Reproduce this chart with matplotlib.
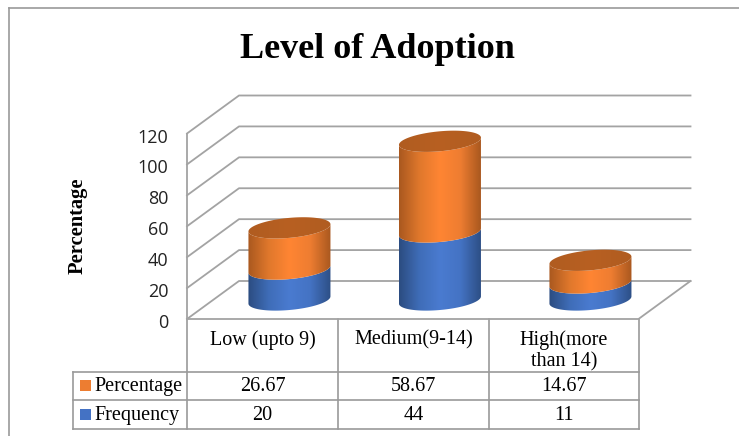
#!/usr/bin/env python
"""
Level of adoption, stacked cylinders with a data table
"""

import numpy as np
import matplotlib
matplotlib.use('Agg')
import matplotlib.pyplot as plt
from matplotlib.colors import LinearSegmentedColormap
from matplotlib.patches import PathPatch, Rectangle
from matplotlib.path import Path
from matplotlib.transforms import ScaledTranslation

categories = ['Low (upto 9)', 'Medium(9-14)', 'High(more\nthan 14)']
frequency = [20, 44, 11]
percentage = [26.67, 58.67, 14.67]
y_ticks = [0, 20, 40, 60, 80, 100, 120]

W, H = 739, 436
GRID = '#a3a3a3'
LINE = '#9a9a9a'

blue = LinearSegmentedColormap.from_list('b', ['#2b4c80', '#3f6db8', '#4a7bd0', '#4473c4', '#2d4f85'])
orange = LinearSegmentedColormap.from_list('o', ['#a9581f', '#e0782c', '#ff8533', '#ee7d31', '#a9581f'])
lid = LinearSegmentedColormap.from_list('l', ['#b05c20', '#b86022', '#b05c20'])

fig = plt.figure(figsize=(W / 100, H / 100), dpi=100)

# page axes in pixels, for frame, title and table
page = fig.add_axes([0, 0, 1, 1])
page.set_xlim(0, W)
page.set_ylim(H, 0)
page.axis('off')

# front plane of the chart
left, right, y0, y120 = 187, 638.5, 319, 133.5
ax = fig.add_axes([left / W, 1 - y0 / H, (right - left) / W, (y0 - y120) / H])
ax.patch.set_alpha(0)
ax.set_xlim(0, 3)
ax.set_ylim(0, 120)
for s in ['top', 'right', 'bottom']:
    ax.spines[s].set_visible(False)
ax.spines['left'].set_color(GRID)
ax.spines['left'].set_linewidth(1.3)
ax.set_xticks([])
ax.set_yticks(y_ticks)
ax.tick_params(axis='y', length=0, pad=13.5, labelsize=13, labelcolor='#222222')
nudge = ScaledTranslation(0, -2 / 100, fig.dpi_scale_trans)
for t in ax.get_yticklabels():
    t.set_family('Open Sans')
    t.set_transform(t.get_transform() + nudge)

px_x = 3 / (right - left)
px_y = 120 / (y0 - y120)
depth_x = 52 * px_x
depth_y = 38 * px_y

# walls and floor
for v in y_ticks:
    ax.plot([0, depth_x, 3 + depth_x], [v, v + depth_y, v + depth_y], color=GRID, lw=1.3,
            clip_on=False, zorder=1)
ax.plot([0, 3, 3 + depth_x], [0, 0, depth_y], color=GRID, lw=1.3, clip_on=False, zorder=1)

half_w = 41 * px_x
half_h = 10 * px_y
tilt = 3.6 * px_y
t = np.linspace(0, np.pi, 80)


def front_edge(cx, v):
    # lower half of the tilted ellipse, from left to right
    return cx - half_w * np.cos(t), v - half_h * np.sin(t) - tilt * np.cos(t)


def shaded(path, cx, v0, v1, cmap):
    grad = np.linspace(0, 1, 256).reshape(1, -1)
    im = ax.imshow(grad, cmap=cmap, aspect='auto', interpolation='bilinear', zorder=3,
                   extent=[cx - half_w, cx + half_w, v0 - half_h - tilt, v1 + half_h + tilt])
    patch = PathPatch(path, transform=ax.transData, fc='none', ec='none')
    ax.add_patch(patch)
    im.set_clip_box(fig.bbox)
    im.set_clip_path(patch)


def body(cx, v0, v1, cmap):
    xs, ys = front_edge(cx, v0)
    xt, yt = front_edge(cx, v1)
    pts = np.column_stack([np.r_[xs, xt[::-1]], np.r_[ys, yt[::-1]]])
    shaded(Path(np.r_[pts, pts[:1]], closed=True), cx, v0, v1, cmap)


def top(cx, v, cmap):
    a = np.linspace(0, 2 * np.pi, 160)
    pts = np.column_stack([cx - half_w * np.cos(a), v - half_h * np.sin(a) - tilt * np.cos(a)])
    shaded(Path(pts, closed=True), cx, v, v, cmap)


for i in range(len(categories)):
    cx = i + 0.5 + depth_x / 2 + 1.2 * px_x
    base = depth_y / 2
    mid = base + frequency[i]
    end = mid + percentage[i]
    body(cx, base, mid, blue)
    body(cx, mid, end, orange)
    top(cx, end, lid)

ax.set_xlim(0, 3)
ax.set_ylim(0, 120)

# outer frame, open on the right and bottom
page.plot([8.5, 8.5], [H, 8.5], color=LINE, lw=1.2)
page.plot([8.5, W], [8.5, 8.5], color=LINE, lw=1.2)

page.text(377, 49, 'Level of Adoption', family='Liberation Serif', weight='bold', fontsize=26,
          ha='center', va='center', color='black')
page.text(78, 226, 'Percentage', family='Liberation Serif', weight='bold', fontsize=14.8,
          rotation=90, ha='center', va='center', color='black')

# data table
cols = [187, 338, 489, 639]
rows = [319, 371.5, 400, 429]
for x in cols:
    page.plot([x, x], [rows[0], rows[-1]], color=LINE, lw=1.2)
for y in rows[1:]:
    page.plot([73, cols[-1]], [y, y], color=LINE, lw=1.2)
page.plot([73, 73], [rows[1], rows[-1]], color=LINE, lw=1.2)

for i, name in enumerate(categories):
    cx = (cols[i] + cols[i + 1]) / 2
    page.text(cx, 330, name, family='Liberation Serif', fontsize=14.5, ha='center', va='top',
              color='black', linespacing=1.2)
    page.text(cx, 386.5, f'{percentage[i]:g}', family='Liberation Serif', fontsize=14.5,
              ha='center', va='center', color='black')
    page.text(cx, 415.5, f'{frequency[i]:g}', family='Liberation Serif', fontsize=14.5,
              ha='center', va='center', color='black')

for name, color, y in [('Percentage', '#ed7d31', 385.5), ('Frequency', '#4472c4', 414.5)]:
    page.add_patch(Rectangle((80, y - 5.5), 11, 11, fc=color, ec='none'))
    page.text(94.5, y + 0.5, name, family='Liberation Serif', fontsize=14.5, ha='left', va='center',
              color='black')

fig.savefig('out.png', dpi=100)
